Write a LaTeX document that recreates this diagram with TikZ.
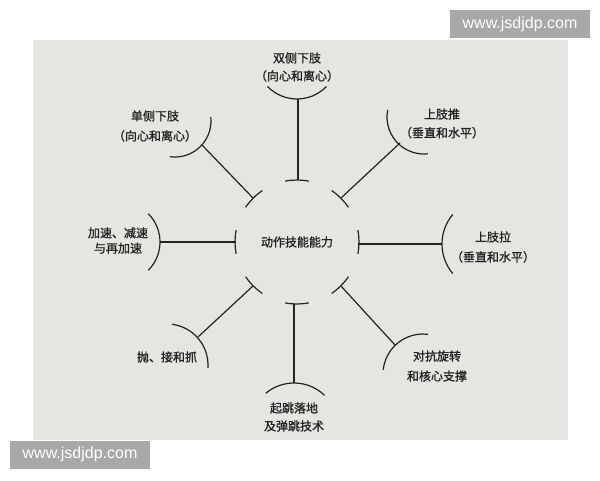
\documentclass[tikz,border=0pt]{standalone}
\usepackage{fontspec}
\usetikzlibrary{calc}
\newfontfamily\cjk{Noto Sans CJK SC}[FakeBold=1.2]
\newfontfamily\wmfont{Liberation Sans}
\definecolor{paper}{RGB}{229,229,226}
\definecolor{ink}{RGB}{35,35,35}
\definecolor{wmgray}{RGB}{168,168,168}
\begin{document}
\begin{tikzpicture}[x=0.75pt,y=0.75pt,
  lbl/.style={font=\cjk\fontsize{9}{14}\selectfont, text=ink, align=center, inner sep=0pt},
  wire/.style={draw=ink, line width=0.9pt},
  wm/.style={fill=wmgray, text=white, font=\wmfont\fontsize{12}{14}\selectfont, inner sep=0pt, minimum width=105pt, minimum height=21pt}]
\useasboundingbox (0,0) rectangle (600,-480);
\fill[white] (0,0) rectangle (600,-480);
\fill[paper] (33,-40) rectangle (568,-440);

% labels
\node[lbl, font=\cjk\fontsize{9}{13.5}\selectfont] (top) at (297,-67) {双侧下肢\\（向心和离心）};
\node[lbl, font=\cjk\fontsize{9}{15}\selectfont] (ul) at (155,-126) {单侧下肢\\（向心和离心）};
\node[lbl, font=\cjk\fontsize{9}{14}\selectfont] (ur) at (442,-123.5) {上肢推\\（垂直和水平）};
\node[lbl, font=\cjk\fontsize{9}{11.5}\selectfont] (lf) at (118,-240.5) {加速、减速\\与再加速};
\node[lbl] (ctr) at (297,-242) {动作技能能力};
\node[lbl, font=\cjk\fontsize{9}{15}\selectfont] (rt) at (493,-247) {上肢拉\\（垂直和水平）};
\node[lbl] (ll) at (167,-357) {抛、接和抓};
\node[lbl, font=\cjk\fontsize{9}{15}\selectfont] (lr) at (437,-366) {对抗旋转\\和核心支撑};
\node[lbl, font=\cjk\fontsize{9}{13.5}\selectfont] (bt) at (294,-417) {起跳落地\\及弹跳技术};

% inner ends and outer contact points
\coordinate (C) at (297,-242);
\coordinate (iT) at (298,-180);
\coordinate (iUR) at ($(C)+(45:62)$);
\coordinate (iR) at (358,-244);
\coordinate (iLR) at ($(C)+(-45:62)$);
\coordinate (iB) at (294,-304);
\coordinate (iLL) at ($(C)+(225:62)$);
\coordinate (iL) at (236,-242);
\coordinate (iUL) at ($(C)+(135:62)$);

\coordinate (oT) at (298,-99);
\coordinate (oUR) at (400,-143);
\coordinate (oR) at (442,-244);
\coordinate (oLR) at (395,-345);
\coordinate (oB) at (294,-383);
\coordinate (oLL) at (198,-337);
\coordinate (oL) at (160,-242);
\coordinate (oUL) at (202,-145);

% connectors
\foreach \k in {T,UR,R,LR,B,LL,L,UL} { \draw[wire] (i\k) -- (o\k); }

% inner bars (pieces of the inner circle)
\foreach \a in {90,45,0,-45,-90,225,180,135} {
  \draw[wire] ($(C)+(\a-11:62)$) arc[start angle=\a-11, end angle=\a+11, radius=62];
}

% outer arcs
\draw[wire] ($(297,-58)+(-136:41)$) arc[start angle=-136, end angle=-44, radius=41];
\draw[wire] ($(175,-121)+(6:36)$) arc[start angle=6, end angle=-98, radius=36];
\draw[wire] ($(424,-117)+(169:37)$) arc[start angle=169, end angle=276, radius=37];
\draw[wire] ($(120,-242)+(45:40)$) arc[start angle=45, end angle=-45, radius=40];
\draw[wire] ($(488,-244)+(140:46)$) arc[start angle=140, end angle=220, radius=46];
\draw[wire] ($(167,-365)+(83:41)$) arc[start angle=83, end angle=-4, radius=41];
\draw[wire] ($(423,-374)+(83:40)$) arc[start angle=83, end angle=174, radius=40];
\draw[wire] ($(294,-427)+(130:44)$) arc[start angle=130, end angle=46, radius=44];

% watermarks
\node[wm] (wm1) at (520,-24) {www.jsdjdp.com};
\node[wm] (wm2) at (80,-454.5) {www.jsdjdp.com};
\end{tikzpicture}
\end{document}
